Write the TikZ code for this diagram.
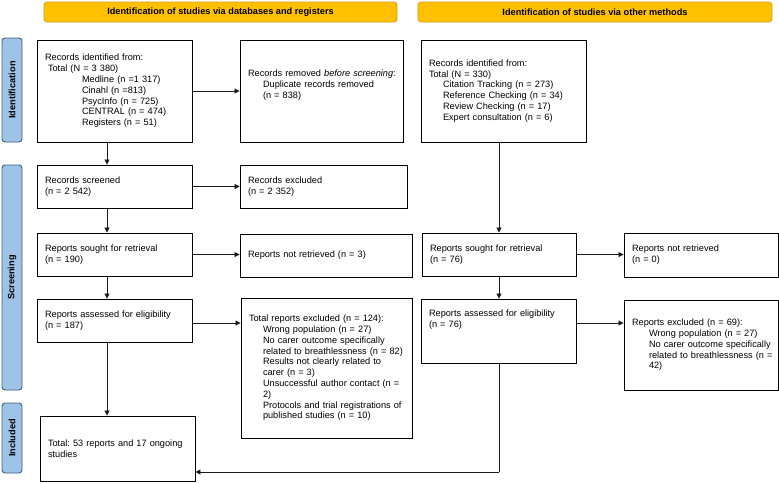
\documentclass[tikz,border=0pt]{standalone}
\usepackage{fontspec}
\setmainfont{Liberation Sans}
\usetikzlibrary{arrows.meta}
\definecolor{hdrfill}{HTML}{FFC000}
\definecolor{hdrdraw}{HTML}{D4A20A}
\definecolor{labfill}{HTML}{9DC3E6}
\definecolor{labdraw}{HTML}{3E5F80}
\definecolor{conn}{HTML}{1A1A1A}
\frenchspacing
\begin{document}
\begin{tikzpicture}[x=1pt,y=-1pt,
  every node/.style={font=\fontsize{9.2}{10.8}\selectfont},
  hdr/.style={draw=hdrdraw,fill=hdrfill,rounded corners=3pt,line width=0.8pt,
    minimum height=20pt,inner sep=0pt,font=\fontsize{9.2}{10.8}\selectfont\bfseries},
  sidelab/.style={draw=labdraw,fill=labfill,rounded corners=3pt,line width=0.9pt,
    rotate=90,minimum height=20pt,inner sep=0pt,font=\fontsize{9.2}{10.8}\selectfont\bfseries},
  pbox/.style={draw=black,line width=0.9pt,align=left,inner xsep=8pt,inner ysep=2pt},
  arr/.style={draw=conn,line width=0.8pt,-{Triangle[length=5pt,width=5pt]}},
  ln/.style={draw=conn,line width=0.8pt}
]
\useasboundingbox (0,0) rectangle (779,483);
\newcommand{\ind}[1]{\mbox{\hspace*{14pt}#1}}
\newcommand{\mline}[1]{\mbox{#1}}

% headers
\node[hdr,minimum width=353pt] (hdrL) at (220.5,12) {Identification of studies via databases and registers};
\node[hdr,minimum width=354pt] (hdrR) at (595,12) {Identification of studies via other methods};

% side labels
\node[sidelab,minimum width=104pt] (labId) at (12,90) {Identification};
\node[sidelab,minimum width=225pt] (labSc) at (12,277.5) {Screening};
\node[sidelab,minimum width=70pt] (labIn) at (12,438) {Included};

% left column
\node[pbox,minimum width=155pt,minimum height=102pt,text width=139pt] (id) at (114.5,91)
 {\mline{Records identified from:}\\
  \mline{\hspace*{3pt}Total (N = 3 380)}\\
  \mline{\hspace*{37pt}Medline (n =1 317)}\\
  \mline{\hspace*{37pt}Cinahl (n =813)}\\
  \mline{\hspace*{37pt}PsycInfo (n = 725)}\\
  \mline{\hspace*{37pt}CENTRAL (n = 474)}\\
  \mline{\hspace*{37pt}Registers (n = 51)}};
\node[pbox,minimum width=163pt,minimum height=102pt,text width=147pt] (rem) at (321.5,91)
 {\mline{Records removed \textit{before screening}:}\\
  \mline{\hspace*{15pt}Duplicate records removed}\\
  \mline{\hspace*{15pt}(n = 838)}\\ \strut};
\node[pbox,minimum width=155pt,minimum height=43pt,text width=139pt] (scr) at (114.5,186.5)
 {Records screened\\(n = 2 542)};
\node[pbox,minimum width=167pt,minimum height=43pt,text width=151pt] (exc) at (323.5,186.5)
 {Records excluded\\(n = 2 352)};
\node[pbox,minimum width=155pt,minimum height=43pt,text width=139pt] (sou) at (114.5,254.5)
 {Reports sought for retrieval\\(n = 190)};
\node[pbox,minimum width=172pt,minimum height=43pt,text width=156pt] (nrt) at (326,255.5)
 {Reports not retrieved (n = 3)};
\node[pbox,minimum width=155pt,minimum height=43pt,text width=139pt] (ass) at (114.5,320.5)
 {\mline{Reports assessed for eligibility}\\(n = 187)};
\node[pbox,minimum width=171pt,minimum height=140pt,text width=155pt] (exl) at (326.5,368)
 {\mline{Total reports excluded (n = 124):}\\
  \ind{Wrong population (n = 27)}\\
  \ind{No carer outcome specifically}\\
  \ind{related to breathlessness (n = 82)}\\
  \ind{Results not clearly related to}\\
  \ind{carer (n = 3)}\\
  \ind{Unsuccessful author contact (n =}\\
  \ind{2)}\\
  \ind{Protocols and trial registrations of}\\
  \ind{published studies (n = 10)}};
\node[pbox,minimum width=155pt,minimum height=65pt,text width=139pt] (inc) at (117.5,448.5)
 {\mline{Total: 53 reports and 17 ongoing}\\studies};

% right column
\node[pbox,minimum width=165pt,minimum height=102pt,text width=149pt] (oid) at (503.5,91)
 {\mline{Records identified from:}\\
  \mline{Total (N = 330)}\\
  \ind{Citation Tracking (n = 273)}\\
  \ind{Reference Checking (n = 34)}\\
  \ind{Review Checking (n = 17)}\\
  \ind{Expert consultation (n = 6)}};
\node[pbox,minimum width=154pt,minimum height=43pt,text width=138pt] (osou) at (499,254.5)
 {\mline{Reports sought for retrieval}\\(n = 76)};
\node[pbox,minimum width=154pt,minimum height=44pt,text width=138pt] (onrt) at (701,255)
 {Reports not retrieved\\(n = 0)};
\node[pbox,minimum width=155pt,minimum height=64pt,text width=139pt] (oass) at (498.5,331)
 {\mline{Reports assessed for eligibility}\\(n = 76)\\ \strut\\ \strut};
\node[pbox,minimum width=154pt,minimum height=90pt,text width=138pt] (oexc) at (701,345)
 {\mline{Reports excluded (n = 69):}\\
  \mline{\hspace*{17pt}Wrong population (n = 27)}\\
  \mline{\hspace*{17pt}No carer outcome specifically}\\
  \mline{\hspace*{17pt}related to breathlessness (n =}\\
  \mline{\hspace*{17pt}42)}};

% left connectors
\draw[arr] ([xshift=-7.5pt]id.south) -- ([xshift=-7.5pt]scr.north);
\draw[arr] ([xshift=-7.5pt]scr.south) -- ([xshift=-7.5pt]sou.north);
\draw[arr] ([xshift=-7.5pt]sou.south) -- ([xshift=-7.5pt]ass.north);
\draw[arr] ([xshift=-7.5pt]ass.south) -- ([xshift=-7.5pt]ass.south |- inc.north);
\draw[arr] (id.east) -- (id.east -| rem.west);
\draw[arr] (scr.east) -- (scr.east -| exc.west);
\draw[arr] (sou.east) -- (sou.east -| nrt.west);
\draw[arr] ([yshift=-2.5pt]ass.east) -- ([yshift=-2.5pt]ass.east -| exl.west);

% right connectors
\draw[arr] (osou.north |- oid.south) -- (osou.north);
\draw[arr] (osou.south) -- (osou.south |- oass.north);
\draw[arr] (osou.east) -- (osou.east -| onrt.west);
\draw[arr] ([yshift=8pt]oass.east) -- ([yshift=8pt]oass.east -| oexc.west);
\coordinate (bend) at ([yshift=-23.5pt]inc.east -| osou.south);
\draw[ln] (osou.south |- oass.south) -- (bend);
\draw[arr] (bend) -- ([yshift=-23.5pt]inc.east);
\end{tikzpicture}
\end{document}
